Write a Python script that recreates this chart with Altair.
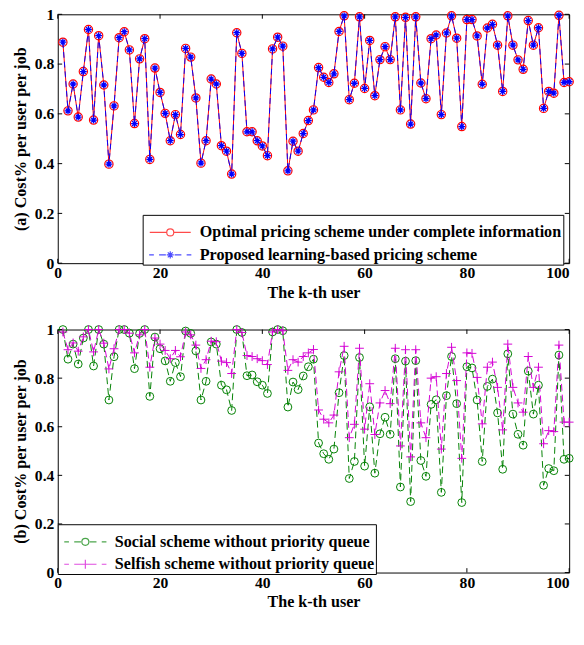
import altair as alt
import pandas as pd

# ---------------- data ----------------
K = list(range(1, 101))

OPTIMAL = [0.888, 0.612, 0.720, 0.587, 0.770, 0.939, 0.575, 0.914, 0.716, 0.398,
           0.632, 0.906, 0.930, 0.857, 0.561, 0.821, 0.902, 0.417, 0.784, 0.686,
           0.602, 0.492, 0.597, 0.517, 0.863, 0.828, 0.664, 0.402, 0.492, 0.740,
           0.720, 0.472, 0.450, 0.358, 0.926, 0.843, 0.528, 0.528, 0.492, 0.471,
           0.432, 0.861, 0.908, 0.872, 0.371, 0.490, 0.450, 0.521, 0.573, 0.616,
           0.786, 0.747, 0.726, 0.761, 0.931, 0.994, 0.657, 0.723, 0.990, 0.702,
           0.895, 0.673, 0.818, 0.870, 0.818, 0.990, 0.616, 0.988, 0.559, 0.990,
           0.724, 0.661, 0.902, 0.917, 0.597, 0.925, 0.994, 0.904, 0.549, 0.979,
           0.979, 0.913, 0.719, 0.945, 0.960, 0.876, 0.690, 0.994, 0.876, 0.817,
           0.779, 0.975, 0.876, 0.946, 0.622, 0.690, 0.683, 0.996, 0.726, 0.729]

# the learning-based scheme coincides with the optimal one in the figure
PROPOSED = list(OPTIMAL)

SOCIAL = [1.000, 0.878, 0.940, 0.858, 0.965, 1.000, 0.850, 1.000, 0.940, 0.710,
          0.888, 1.000, 1.000, 0.985, 0.839, 0.984, 1.000, 0.725, 0.969, 0.921,
          0.871, 0.787, 0.864, 0.806, 0.994, 0.984, 0.912, 0.710, 0.787, 0.949,
          0.940, 0.771, 0.752, 0.667, 1.000, 0.988, 0.810, 0.813, 0.785, 0.771,
          0.737, 0.990, 1.000, 0.995, 0.681, 0.784, 0.753, 0.809, 0.847, 0.878,
          0.533, 0.489, 0.466, 0.508, 0.740, 0.893, 0.387, 0.457, 0.885, 0.438,
          0.682, 0.409, 0.571, 0.639, 0.569, 0.880, 0.352, 0.870, 0.292, 0.872,
          0.461, 0.396, 0.692, 0.711, 0.330, 0.728, 0.889, 0.695, 0.288, 0.847,
          0.842, 0.710, 0.457, 0.766, 0.796, 0.657, 0.425, 0.900, 0.652, 0.569,
          0.524, 0.829, 0.652, 0.771, 0.359, 0.428, 0.419, 0.895, 0.466, 0.470]

SELFISH = [0.990, 0.917, 0.945, 0.911, 0.970, 1.000, 0.908, 1.000, 0.944, 0.838,
           0.921, 1.000, 1.000, 0.985, 0.904, 0.978, 1.000, 0.845, 0.965, 0.940,
           0.914, 0.880, 0.914, 0.888, 0.990, 0.978, 0.936, 0.840, 0.876, 0.952,
           0.950, 0.870, 0.864, 0.819, 1.000, 0.988, 0.893, 0.889, 0.880, 0.872,
           0.856, 0.990, 1.000, 0.995, 0.832, 0.876, 0.866, 0.889, 0.904, 0.918,
           0.669, 0.631, 0.616, 0.648, 0.826, 0.931, 0.555, 0.610, 0.923, 0.590,
           0.777, 0.568, 0.698, 0.749, 0.695, 0.923, 0.521, 0.917, 0.476, 0.917,
           0.616, 0.555, 0.800, 0.806, 0.508, 0.819, 0.927, 0.790, 0.470, 0.904,
           0.902, 0.803, 0.612, 0.845, 0.866, 0.762, 0.587, 0.940, 0.762, 0.698,
           0.660, 0.889, 0.762, 0.845, 0.530, 0.584, 0.580, 0.936, 0.619, 0.619]

TOP_SERIES = ["Optimal pricing scheme under complete information",
              "Proposed learning-based pricing scheme"]
BOTTOM_SERIES = ["Social scheme without priority queue",
                 "Selfish scheme without priority queue"]

X_TICKS = [0, 20, 40, 60, 80, 100]
Y_TICKS = [0, 0.2, 0.4, 0.6, 0.8, 1]
X_TITLE = "The k-th user"
Y_TITLES = ["(a) Cost% per user per job", "(b) Cost% per user per job"]

# ---------------- style ----------------
FONT = "Liberation Serif"
W = 524
H_TOP = 255
H_BOT = 249
TICK_PX = 4.5
RED, BLUE, GREEN, MAGENTA = "#ff0000", "#0000ff", "#008000", "#d400d4"

ASTERISK = "M0,-1V1M-1,0H1M-0.7,-0.7L0.7,0.7M-0.7,0.7L0.7,-0.7"
PLUS = "M0,-1V1M-1,0H1"

# legend glyphs (line + marker), units of 6 px at symbolSize 144
CIRC = "M0.6,0A0.6,0.6,0,1,1,-0.6,0A0.6,0.6,0,1,1,0.6,0"
STAR = "M0,-0.6V0.6M-0.6,0H0.6M-0.42,-0.42L0.42,0.42M-0.42,0.42L0.42,-0.42"
CROSS = "M0,-0.75V0.75M-0.75,0H0.75"
SOLID_SIDES = "M-3.5,0H-0.6M0.6,0H3.5"
DASH_SIDES = "M-3.6,0H-2.8M-1.9,0H-0.75M0.75,0H1.9M2.8,0H3.6"
LEG_TOP = [SOLID_SIDES + CIRC, DASH_SIDES + STAR]
LEG_BOT = [DASH_SIDES + CIRC, DASH_SIDES + CROSS]


def xenc():
    return alt.X("k:Q",
                 scale=alt.Scale(domain=[0, 100], nice=False, zero=False),
                 axis=alt.Axis(values=X_TICKS, title=X_TITLE, format="d",
                               labelFlush=False, labelOverlap=False,
                               labelAlign={"condition": {"test": "datum.value >= 100",
                                                         "value": "right"},
                                           "value": "center"},
                               labelPadding=2, titlePadding=4))


def yenc(title):
    return alt.Y("value:Q",
                 scale=alt.Scale(domain=[0, 1], nice=False),
                 axis=alt.Axis(values=Y_TICKS, title=title, format="~g",
                               labelFlush=False, labelOverlap=False,
                               labelPadding=4, titlePadding=6,
                               minExtent=24, maxExtent=24))


def series(values, color, shape, size, dash=None, sw=1.2):
    df = pd.DataFrame({"k": K, "value": values})
    line_kw = dict(color=color, strokeWidth=1)
    if dash:
        line_kw["strokeDash"] = dash
    return df, line_kw, dict(shape=shape, size=size, filled=False, color=color,
                             strokeWidth=sw, opacity=1)


def inner_ticks(title, height):
    # short inward ticks on all four sides, at the axis tick values
    dy = TICK_PX / height
    dx = TICK_PX * (X_TICKS[-1] - X_TICKS[0]) / W
    lo_y, hi_y = Y_TICKS[0], Y_TICKS[-1]
    lo_x, hi_x = X_TICKS[0], X_TICKS[-1]
    n, m = len(X_TICKS), len(Y_TICKS)
    xt = pd.DataFrame({"k": X_TICKS * 2, "k2": X_TICKS * 2,
                       "value": [lo_y] * n + [hi_y] * n,
                       "value2": [lo_y + dy] * n + [hi_y - dy] * n})
    yt = pd.DataFrame({"k": [lo_x] * m + [hi_x] * m,
                       "k2": [lo_x + dx] * m + [hi_x - dx] * m,
                       "value": Y_TICKS * 2, "value2": Y_TICKS * 2})
    both = pd.concat([xt, yt], ignore_index=True)
    return [alt.Chart(both).mark_rule(color="black", strokeWidth=1)
            .encode(x=xenc(), x2="k2:Q", y=yenc(title), y2="value2:Q")]


def make_legend(lx, ly):
    return alt.Legend(title=" ", orient="none", legendX=lx, legendY=ly,
                      direction="vertical", padding=1,
                      titleFontSize=7, titlePadding=1.75, rowPadding=6,
                      symbolSize=144, symbolStrokeWidth=1.2,
                      symbolOffset=19, labelOffset=22,
                      labelFont=FONT, labelFontSize=16.5, labelFontWeight="bold",
                      labelColor="black", labelLimit=800,
                      labelExpr="datum.label + ' '",
                      strokeColor="black", fillColor="white",
                      symbolFillColor="transparent")


def panel(specs, names, colors, glyphs, title, height, lx):
    layers = inner_ticks(title, height)
    for df, line_kw, pt_kw in specs:
        base = alt.Chart(df).encode(x=xenc(), y=yenc(title))
        layers.append(base.mark_line(**line_kw))
        layers.append(base.mark_point(**pt_kw))
    leg_df = pd.DataFrame({"k": [K[0]] * len(names), "value": [0.5] * len(names),
                           "series": names})
    leg = make_legend(lx, height - 49.5)
    layers.append(
        alt.Chart(leg_df).transform_filter("datum.k < 0").mark_point(filled=False)
        .encode(x=xenc(), y=yenc(title),
                color=alt.Color("series:N", scale=alt.Scale(domain=names, range=colors),
                                legend=leg),
                shape=alt.Shape("series:N", scale=alt.Scale(domain=names, range=glyphs),
                                legend=leg))
    )
    return alt.layer(*layers).properties(width=W, height=height)


top = panel([series(OPTIMAL, RED, "circle", 72),
             series(PROPOSED, BLUE, ASTERISK, 49, dash=[6, 4], sw=1.3)],
            TOP_SERIES, [RED, BLUE], LEG_TOP, Y_TITLES[0], H_TOP, 87)

bottom = panel([series(SOCIAL, GREEN, "circle", 64, dash=[7, 4], sw=1.0),
                series(SELFISH, MAGENTA, PLUS, 81, dash=[7, 4], sw=1.0)],
               BOTTOM_SERIES, [GREEN, MAGENTA], LEG_BOT, Y_TITLES[1], H_BOT, 0)

chart = (
    alt.vconcat(top, bottom, spacing=20)
    .resolve_scale(color="independent", shape="independent")
    .properties(padding={"left": 4, "top": -10, "right": -1, "bottom": -4},
                background="white")
    .configure_view(stroke="black", strokeWidth=1, fill="white")
    .configure_axis(labelFont=FONT, labelFontSize=16, labelFontWeight="bold",
                    labelColor="black", titleFont=FONT, titleFontSize=16.5,
                    titleFontWeight="bold", titleColor="black",
                    grid=False, domain=False, ticks=False, tickSize=0)
)

chart.save("out.html", embed_options={"renderer": "svg", "actions": False})
